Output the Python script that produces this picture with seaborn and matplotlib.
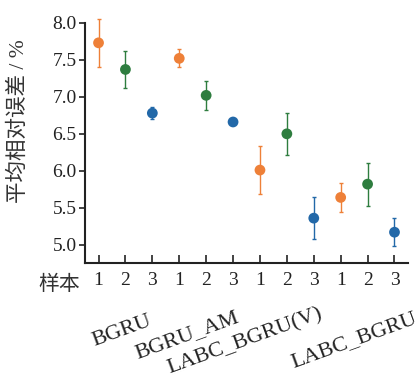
import matplotlib
matplotlib.use("Agg")
import matplotlib.pyplot as plt
import seaborn as sns
import pandas as pd
import numpy as np

# Mean relative error (%) per model and sample, with error half-widths
models = ["BGRU", "BGRU_AM", "LABC_BGRU(V)", "LABC_BGRU"]
samples = ["1", "2", "3"]
mean_bgru = [7.73, 7.37, 6.78]
mean_bgru_am = [7.52, 7.02, 6.66]
mean_labc_v = [6.01, 6.50, 5.36]
mean_labc = [5.64, 5.82, 5.17]
err_bgru = [0.32, 0.245, 0.08]
err_bgru_am = [0.12, 0.20, 0.015]
err_labc_v = [0.32, 0.28, 0.28]
err_labc = [0.20, 0.29, 0.19]
sample_colors = {"1": "#EE8038", "2": "#2E7D3F", "3": "#2268A8"}

means = [mean_bgru, mean_bgru_am, mean_labc_v, mean_labc]
errs = [err_bgru, err_bgru_am, err_labc_v, err_labc]
rows = []
for gi, m in enumerate(models):
    for si, s in enumerate(samples):
        rows.append({"model": m, "sample": s, "pos": gi * 3 + si,
                     "mean": means[gi][si], "err": errs[gi][si]})
df = pd.DataFrame(rows)

sns.set_style("ticks")
plt.rcParams["font.family"] = ["Liberation Serif", "Noto Sans CJK SC"]
plt.rcParams["axes.unicode_minus"] = False

fig = plt.figure(figsize=(4.15, 3.81), dpi=100)
ax = fig.add_axes([0.205, 0.309, 0.778, 0.631])

for s in samples:
    sub = df[df["sample"] == s]
    ax.errorbar(sub["pos"], sub["mean"], yerr=sub["err"], fmt="none",
                ecolor=sample_colors[s], elinewidth=1.0, capsize=1.6,
                capthick=1.0, clip_on=False, zorder=2)
sns.scatterplot(data=df, x="pos", y="mean", hue="sample", palette=sample_colors,
                s=60, edgecolor="none", legend=False, ax=ax, zorder=3, clip_on=False)

ax.set_xlim(-0.5, 11.5)
ax.set_ylim(4.75, 8.0)
yticks = [5.0, 5.5, 6.0, 6.5, 7.0, 7.5, 8.0]
ax.set_yticks(yticks)
ax.set_yticklabels([f"{v:.1f}" for v in yticks])
ax.set_xticks(df["pos"])
ax.set_xticklabels(df["sample"])
ax.tick_params(axis="y", direction="out", length=4, width=1.2, labelsize=14,
               colors="#222222", pad=2)
ax.tick_params(axis="x", direction="in", length=6, width=1.2, labelsize=14,
               colors="#222222", pad=6)
for side in ["top", "right"]:
    ax.spines[side].set_visible(False)
for side in ["left", "bottom"]:
    ax.spines[side].set_linewidth(1.5)
    ax.spines[side].set_color("#222222")

ax.set_xlabel("")
ax.set_ylabel("平均相对误差 / %", fontsize=15.5, color="#333333")
ax.yaxis.set_label_coords(-0.175, 0.59)

# Row header for the sample numbers
ax.text(-1.45, -0.09, "样本", transform=ax.get_xaxis_transform(),
        ha="center", va="center", fontsize=15, color="#333333")

# Model names under each group of samples
group_x = [0.88, 3.30, 5.45, 9.5]
group_y = [-0.282, -0.298, -0.326, -0.322]
for name, gx, gy in zip(models, group_x, group_y):
    ax.text(gx, gy, name, transform=ax.get_xaxis_transform(), rotation=20,
            ha="center", va="center", fontsize=16, color="#222222",
            rotation_mode="default")

fig.savefig("out.png", dpi=100)
